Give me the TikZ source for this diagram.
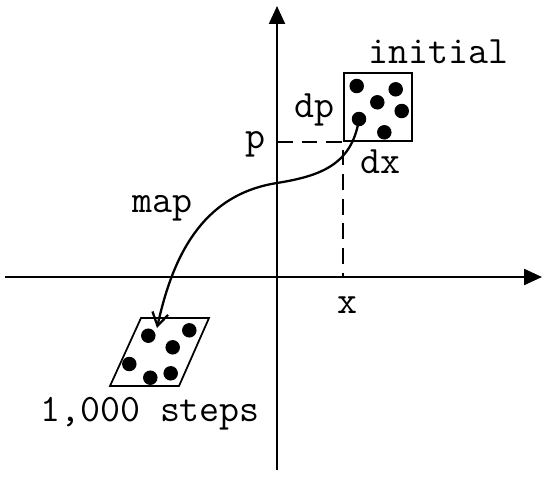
\documentclass[tikz,border=0pt]{standalone}
\usetikzlibrary{arrows.meta,positioning,calc}

\begin{document}
\begin{tikzpicture}[
  x=0.02cm, y=-0.02cm,
  font=\fontsize{22.1}{26}\selectfont\ttfamily,
  axis/.style={line width=1.3pt, -{Triangle[length=3.6mm,width=3.2mm]}},
  cell/.style={draw, line width=1pt, minimum size=1.36cm, inner sep=0pt},
  dot/.style={circle, fill=black, inner sep=0pt, minimum size=0.29cm},
  guide/.style={dash pattern=on 9pt off 5pt, line width=1pt},
  ar/.style={-{Straight Barb[length=2.6mm,width=3.2mm]}, line width=1.3pt},
  lab/.style={anchor=base, inner sep=0pt},
]
\useasboundingbox (0,0) rectangle (543,477);
% axes
\coordinate (O) at (277,277);
\coordinate (xstart) at (5,277);
\coordinate (xend) at (542,277);
\coordinate (ystart) at (277,470);
\coordinate (yend) at (277,6);
\draw[axis] (xstart) -- (xend);
\draw[axis] (ystart) -- (yend);
% initial cell and its points
\node[cell] (init) at (378,107) {};
\foreach \n/\px/\py in {1/356.7/86, 2/395.7/89.3, 3/377.3/102.3, 4/401.7/111, 5/359/119, 6/384.3/132.3}
  \node[dot] (a\n) at (\px,\py) {};
\draw[guide] (O |- init.south west) -- (init.south west) -- (init.south west |- O);
% mapped cell after many steps
\draw[line width=1pt] (110,386) -- (179,386) -- (209,318) -- (141,318) -- cycle;
\foreach \n/\px/\py in {1/148.3/335.7, 2/189.3/330.3, 3/172.7/347.3, 4/129.3/364, 5/150.3/377.7, 6/170.7/373.3}
  \node[dot] (b\n) at (\px,\py) {};
% the map
\coordinate (tip) at (157,328);
\draw[ar] (a5.center) .. controls (352,165) and (320,176) .. (277,183)
  .. controls (200,195) and (172,260) .. (tip);
% labels
\node[lab] (initlab) at (438,63) {initial};
\node[lab] (dplab) at (314,117) {dp};
\node[lab] (plab) at (255,148) {p};
\node[lab] (dxlab) at (380,173) {dx};
\node[lab] (xlab) at (347,313) {x};
\node[lab] (maplab) at (162,212) {map};
\node[lab] (steplab) at (150,421) {1,000 steps};
\end{tikzpicture}
\end{document}
